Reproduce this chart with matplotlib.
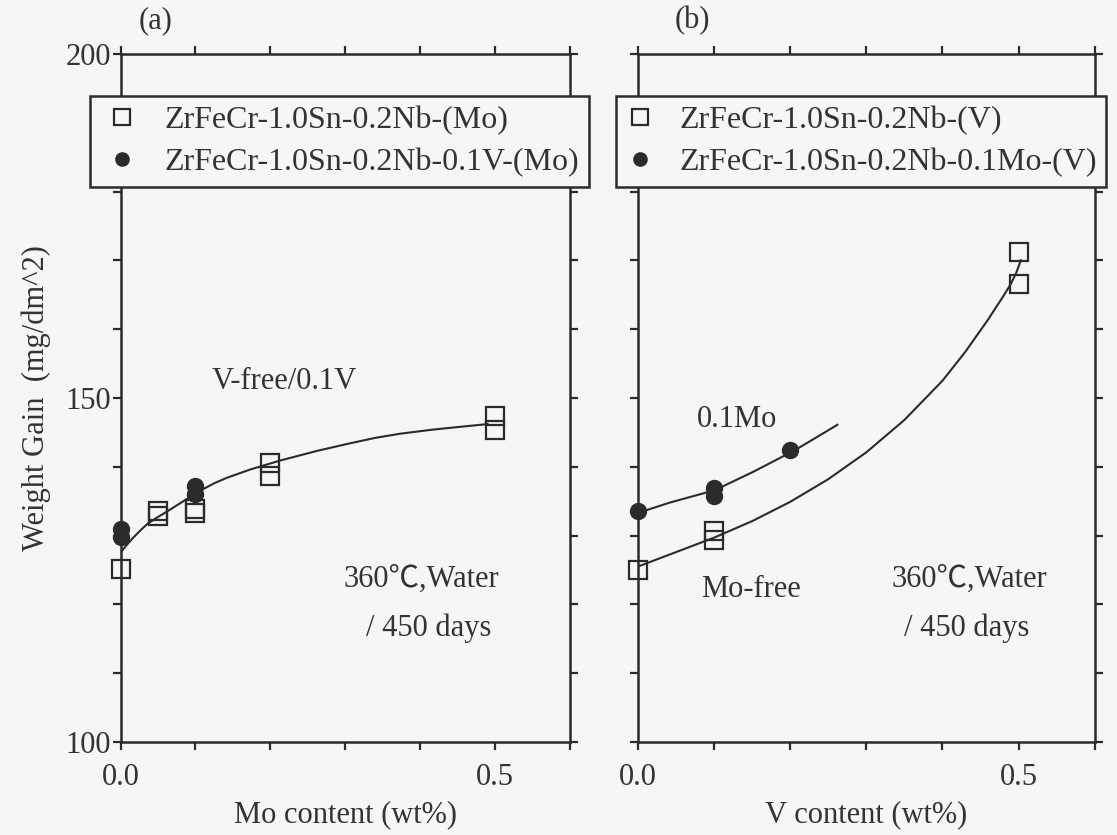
import matplotlib
matplotlib.use('Agg')
import matplotlib.pyplot as plt
from matplotlib.ticker import MultipleLocator, FixedLocator, NullFormatter
from matplotlib.lines import Line2D

plt.rcParams['font.family'] = ['Liberation Serif', 'Noto Sans CJK JP']
plt.rcParams['font.size'] = 22

INK = '#2b2b2b'
TXT = '#333333'
BG = '#f7f5f6'

# panel (a): Mo content
mo_sq_x = [0.0, 0.05, 0.05, 0.1, 0.1, 0.2, 0.2, 0.5, 0.5]
mo_sq_y = [125.1, 133.6, 132.9, 133.9, 133.3, 140.6, 138.6, 147.4, 145.4]
mo_ci_x = [0.0, 0.0, 0.1, 0.1]
mo_ci_y = [131.0, 129.8, 137.2, 136.0]
mo_fit_x = [0.0, 0.008, 0.017, 0.027, 0.037, 0.05, 0.062, 0.084, 0.106, 0.125, 0.142,
            0.173, 0.213, 0.262, 0.306, 0.34, 0.373, 0.417, 0.462, 0.49]
mo_fit_y = [127.5, 128.6, 129.7, 130.8, 131.8, 132.7, 133.5, 135.0, 136.5, 137.6, 138.4,
            139.6, 140.9, 142.3, 143.4, 144.2, 144.8, 145.4, 145.9, 146.2]

# panel (b): V content
v_sq_x = [0.0, 0.1, 0.1, 0.5, 0.5]
v_sq_y = [125.0, 130.7, 129.3, 171.2, 166.5]
v_ci_x = [0.0, 0.1, 0.1, 0.2]
v_ci_y = [133.5, 136.9, 135.7, 142.5]
v_fit_x = [0.0, 0.05, 0.1, 0.15, 0.2, 0.25, 0.3, 0.35, 0.4, 0.43, 0.46, 0.48, 0.49, 0.497, 0.503]
v_fit_y = [125.5, 127.6, 129.7, 132.1, 134.9, 138.2, 142.1, 146.8, 152.5, 156.7, 161.4, 164.8, 166.6, 168.2, 170.0]
mo01_fit_x = [0.0, 0.042, 0.101, 0.152, 0.206, 0.262]
mo01_fit_y = [133.3, 134.8, 136.6, 139.3, 142.4, 146.1]

fig = plt.figure(figsize=(11.17, 8.35), dpi=100, facecolor=BG)
axA = fig.add_axes([0.1079, 0.1114, 0.4024, 0.824])
axB = fig.add_axes([0.5712, 0.1114, 0.4088, 0.824])

sq_kw = dict(ls='none', marker='s', ms=13, mfc='none', mec=INK, mew=1.6, zorder=3, clip_on=False)
ci_kw = dict(ls='none', marker='o', ms=11.5, mfc=INK, mec=INK, zorder=4, clip_on=False)

axA.plot(mo_fit_x, mo_fit_y, color=INK, lw=1.5)
axA.plot(mo_sq_x, mo_sq_y, **sq_kw)
axA.plot(mo_ci_x, mo_ci_y, **ci_kw)

axB.plot(v_fit_x, v_fit_y, color=INK, lw=1.5)
axB.plot(mo01_fit_x, mo01_fit_y, color=INK, lw=1.5)
axB.plot(v_sq_x, v_sq_y, **sq_kw)
axB.plot(v_ci_x, v_ci_y, **ci_kw)

for ax in (axA, axB):
    ax.set_facecolor(BG)
    ax.set_xlim(0, 0.6)
    ax.set_ylim(100, 200)
    for s in ax.spines.values():
        s.set_linewidth(1.8)
        s.set_color(INK)
    ax.xaxis.set_major_locator(FixedLocator([0.0, 0.5]))
    ax.xaxis.set_minor_locator(MultipleLocator(0.1))
    ax.yaxis.set_major_locator(MultipleLocator(50))
    ax.yaxis.set_minor_locator(MultipleLocator(10))
    ax.tick_params(which='both', direction='out', length=6, width=1.6, color=INK,
                   top=True, right=True, labelcolor=TXT, labelsize=22)
    ax.tick_params(axis='x', pad=9)
    ax.tick_params(axis='y', pad=1)
    ax.xaxis.set_major_formatter(plt.FuncFormatter(lambda v, p: '%.1f' % v))

axB.yaxis.set_major_formatter(NullFormatter())

axA.set_xlabel('Mo content (wt%)', color=TXT, labelpad=6)
axB.set_xlabel('V content (wt%)', color=TXT, labelpad=6)
axA.set_ylabel('Weight Gain  (mg/dm^2)', color=TXT, labelpad=10)

fig.text(0.139, 0.975, '(a)', ha='center', va='center', color=TXT)
fig.text(0.620, 0.975, '(b)', ha='center', va='center', color=TXT)

axA.text(0.219, 152.4, 'V-free/0.1V', color=TXT, ha='center', va='center')
axA.text(0.402, 123.6, '360\u2103,Water', color=TXT, ha='center', va='center')
axA.text(0.411, 116.5, '/ 450 days', color=TXT, ha='center', va='center')
axB.text(0.130, 146.9, '0.1Mo', color=TXT, ha='center', va='center')
axB.text(0.148, 122.2, 'Mo-free', color=TXT, ha='center', va='center')
axB.text(0.435, 123.6, '360\u2103,Water', color=TXT, ha='center', va='center')
axB.text(0.432, 116.5, '/ 450 days', color=TXT, ha='center', va='center')

leg_kw = dict(loc='upper left', frameon=True, fancybox=False, edgecolor=INK,
              facecolor=BG, framealpha=1, labelcolor=TXT, borderpad=0.3,
              borderaxespad=0, labelspacing=0.41, fontsize=23)

hA = [Line2D([], [], ls='none', marker='s', ms=11, mfc='none', mec=INK, mew=1.6),
      Line2D([], [], ls='none', marker='o', ms=9.5, mfc=INK, mec=INK)]
legA = fig.legend(hA, ['ZrFeCr-1.0Sn-0.2Nb-(Mo)', 'ZrFeCr-1.0Sn-0.2Nb-0.1V-(Mo)'],
                  bbox_to_anchor=(0.0806, 0.885), handlelength=1.4,
                  handletextpad=0.64, **leg_kw)
legA.get_frame().set_linewidth(1.8)
hB = [Line2D([], [], ls='none', marker='s', ms=11, mfc='none', mec=INK, mew=1.6),
      Line2D([], [], ls='none', marker='o', ms=9.5, mfc=INK, mec=INK)]
legB = fig.legend(hB, ['ZrFeCr-1.0Sn-0.2Nb-(V)', 'ZrFeCr-1.0Sn-0.2Nb-0.1Mo-(V)'],
                  bbox_to_anchor=(0.5515, 0.885), handlelength=0.9,
                  handletextpad=0.77, **leg_kw)
legB.get_frame().set_linewidth(1.8)

fig.savefig('out.png', dpi=100, facecolor=BG)
